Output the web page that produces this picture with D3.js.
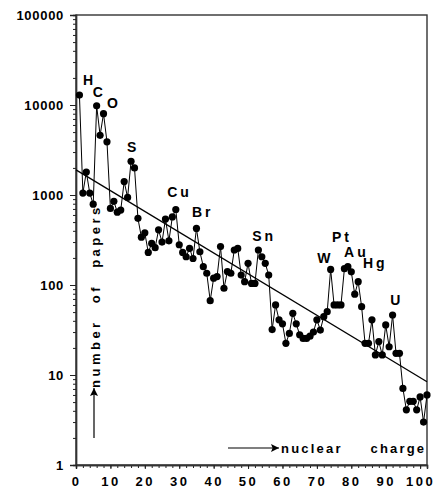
<!DOCTYPE html>
<html><head><meta charset="utf-8">
<script src="https://cdn.jsdelivr.net/npm/d3@7"></script>
<style>
html,body{margin:0;padding:0;background:#fff;}
svg text{font-family:"Liberation Sans",Arial,Helvetica,sans-serif;font-weight:bold;fill:#000;}
</style></head>
<body><svg id="c" width="440" height="491"></svg>
<script>
// nuclear charge Z (1..102) and number of papers
const charges = d3.range(1, 103);
const papers = [
 12900,1050,1800,1050,790,9800,4600,8000,3900,710,
 850,645,680,1410,940,2370,2000,550,340,380,
 230,290,260,410,300,540,310,570,690,280,
 230,206,255,197,425,234,160,135,67,119,
 124,267,92,141,135,245,255,129,109,174,
 104,104,245,206,174,129,32,60,41,37,
 22.5,29,48.5,37,28,25.5,25.5,27,30,41,
 31.6,44.5,50.5,149,60,60,60,152,160,140,
 79,109,57.5,22.5,22.5,41,16.7,23.5,16.7,36,
 20.6,46.4,17.4,17.4,7.1,4.1,5.1,5.1,4.1,5.7,
 3.0,6.0
];
// straight trend line (log scale), endpoints [charge, papers]
const trendCharge = [0, 102];
const trendPapers = [1900, 8.4];
// element labels: text, anchor charge, anchor papers
const labelText = ["H","C","O","S","Cu","Br","Sn","W","Pt","Au","Hg","U"];
const labelCharge = [2.0,4.9,9.0,14.8,26.5,33.7,51.2,70.1,74.4,77.9,83.4,91.3];
const labelPapers = [16700,12270,9260,3000,950,570,308,176,300,205,154,60];
// axis ticks
const yMajor = [1,10,100,1000,10000,100000];
const xLabels = [0,10,20,30,40,50,60,70,80,90,100];

const svg = d3.select("#c");
const L = 76, R = 427, T = 15, B = 465;
const x = d3.scaleLinear().domain([0, 102]).range([L, R]);
const y = d3.scaleLog().domain([1, 100000]).range([B, T]);

// frame
svg.append("rect").attr("x", L).attr("y", T).attr("width", R - L).attr("height", B - T)
  .attr("fill", "none").attr("stroke", "#333").attr("stroke-width", 1.4);

// y axis minor ticks
const yMinor = [];
yMajor.slice(0, -1).forEach(d => { for (let k = 2; k <= 9; k++) yMinor.push(d * k); });
const gyMin = svg.append("g").attr("transform", `translate(${L},0)`)
  .call(d3.axisLeft(y).tickValues(yMinor).tickSize(3).tickFormat(""));
const gy = svg.append("g").attr("transform", `translate(${L},0)`)
  .call(d3.axisLeft(y).tickValues(yMajor).tickSize(6).tickPadding(6).tickFormat(d3.format("d")));
[gyMin, gy].forEach(g => { g.select(".domain").attr("stroke", "#333").attr("stroke-width", 1.4); g.selectAll("line").attr("stroke", "#222"); });
gy.selectAll("text").style("font-size", "13px").attr("fill", "#000")
  .style("letter-spacing", "0.7px")
  .style("font-family", '"Liberation Sans",Arial,sans-serif').style("font-weight", "bold");

// x axis ticks
const gxMin = svg.append("g").attr("transform", `translate(0,${B})`)
  .call(d3.axisBottom(x).tickValues(d3.range(0, 101, 2)).tickSize(3).tickFormat(""));
const gx = svg.append("g").attr("transform", `translate(0,${B})`)
  .call(d3.axisBottom(x).tickValues(xLabels).tickSize(4).tickPadding(8).tickFormat(d3.format("d")));
[gxMin, gx].forEach(g => { g.select(".domain").attr("stroke", "#333").attr("stroke-width", 1.4); g.selectAll("line").attr("stroke", "#222"); });
gx.selectAll("text").style("font-size", "13px").attr("fill", "#000")
  .style("letter-spacing", "2.5px")
  .style("font-family", '"Liberation Sans",Arial,sans-serif').style("font-weight", "bold");

// trend line
svg.append("line")
  .attr("x1", x(trendCharge[0])).attr("y1", y(trendPapers[0]))
  .attr("x2", x(trendCharge[1])).attr("y2", y(trendPapers[1]))
  .attr("stroke", "#000").attr("stroke-width", 1.3);

// data line + dots
const pts = charges.map((c, i) => [c, papers[i]]);
svg.append("path").datum(pts)
  .attr("d", d3.line().x(d => x(d[0])).y(d => y(d[1])))
  .attr("fill", "none").attr("stroke", "#000").attr("stroke-width", 1);
svg.append("g").selectAll("circle").data(pts).join("circle")
  .attr("cx", d => x(d[0])).attr("cy", d => y(d[1])).attr("r", 3.6).attr("fill", "#000");

// element labels
svg.append("g").selectAll("text").data(labelText).join("text")
  .attr("x", (d, i) => x(labelCharge[i])).attr("y", (d, i) => y(labelPapers[i]))
  .style("font-size", "14px").style("letter-spacing", "3px")
  .text(d => d);

// axis titles with arrows
svg.append("defs").append("marker").attr("id", "ah")
  .attr("viewBox", "0 0 10 10").attr("refX", 10).attr("refY", 5)
  .attr("markerWidth", 9).attr("markerHeight", 8).attr("markerUnits", "userSpaceOnUse")
  .attr("orient", "auto")
  .append("path").attr("d", "M0,0L10,5L0,10L2,5Z").attr("fill", "#000");
svg.append("line").attr("x1", 228).attr("y1", 448).attr("x2", 279).attr("y2", 448)
  .attr("stroke", "#000").attr("stroke-width", 1.2).attr("marker-end", "url(#ah)");
svg.append("text").attr("x", 281).attr("y", 453)
  .style("font-size", "13px").style("letter-spacing", "2.2px").style("word-spacing", "22px")
  .text("nuclear charge");

svg.append("line").attr("x1", 94).attr("y1", 438).attr("x2", 94).attr("y2", 388)
  .attr("stroke", "#000").attr("stroke-width", 1.2).attr("marker-end", "url(#ah)");
svg.append("text").attr("transform", "translate(100,388) rotate(-90)")
  .style("font-size", "13px").style("letter-spacing", "3.5px").style("word-spacing", "9px")
  .text("number of papers");
</script></body></html>
